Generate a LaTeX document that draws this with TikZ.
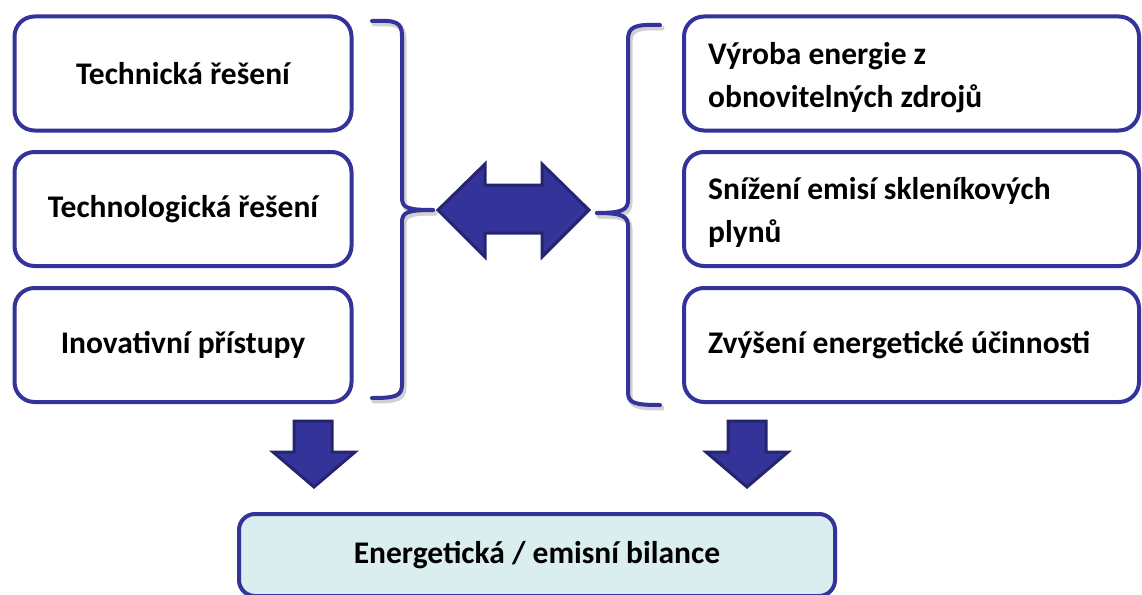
\documentclass[tikz,border=0pt]{standalone}
\usepackage{fontspec}
\setmainfont{Carlito}
\definecolor{navy}{HTML}{333399}
\definecolor{navydark}{HTML}{25256F}
\definecolor{paleteal}{HTML}{DAEDEF}
\begin{document}
\begin{tikzpicture}[x=1pt,y=-1pt,
  textfont/.style={font=\fontsize{31.5}{43}\selectfont\bfseries},
  box/.style={draw=navy, line width=4pt, rounded corners=20pt, fill=white,
    inner sep=0pt, textfont},
  leftbox/.style={box, minimum width=337pt, minimum height=114pt, align=center},
  rightbox/.style={box, minimum width=455pt, minimum height=114pt},
  righttext/.style={textfont, inner sep=0pt, align=left, anchor=west},
  resultbox/.style={box, fill=paleteal, rounded corners=16pt, minimum width=596pt, minimum height=82pt},
  brace/.style={draw=navy, line width=4pt, line cap=round, line join=round},
  braceshadow/.style={draw=black!18, line width=5pt, line cap=round, line join=round},
  blockarrow/.style={fill=navy, draw=navydark, line width=3pt, line join=miter}
]
\useasboundingbox (0,0) rectangle (1142,594);
\clip (0,0) rectangle (1142,594);

% left column
\node[leftbox] (tech)  at (183,73.5) {Technická řešení};
\node[leftbox] (techn) at (183,209)  {Technologická řešení};
\node[leftbox] (inov)  at (183,345)  {Inovativní přístupy};

% right column: frames, then left-aligned texts
\node[rightbox] (obnov) at (911.5,73.5) {};
\node[rightbox] (emis)  at (911.5,209)  {};
\node[rightbox] (ucin)  at (911.5,345)  {};
\node[righttext] (obnovtext) at ([xshift=26pt,yshift=-4pt]obnov.west) {Výroba energie z\\obnovitelných zdrojů};
\node[righttext] (emistext)  at ([xshift=26pt,yshift=-3pt]emis.west)  {Snížení emisí skleníkových\\plynů};
\node[righttext] (ucintext)  at ([xshift=26pt]ucin.west)  {Zvýšení energetické účinnosti};

% result
\node[resultbox] (bil) at (537,555) {Energetická / emisní bilance};

% braces (soft shadow first)
\foreach \s/\st in {1/braceshadow,0/brace}{
  \path[\st, shift={(2*\s,3*\s)}]
    (372,21) .. controls (396,20) and (402,22) .. (402,36)
    -- (402,198) .. controls (402,208) and (408,210) .. (433,210);
  \path[\st, shift={(2*\s,3*\s)}]
    (433,210) .. controls (408,210) and (402,212) .. (402,222)
    -- (402,384) .. controls (402,396) and (396,398) .. (372,398);
  \path[\st, shift={(2*\s,3*\s)}]
    (660,25) .. controls (634,24) and (628,27) .. (628,40)
    -- (628,200) .. controls (628,210) and (622,213) .. (597,213);
  \path[\st, shift={(2*\s,3*\s)}]
    (597,213) .. controls (622,213) and (628,216) .. (628,226)
    -- (628,392) .. controls (628,403) and (634,405) .. (660,405);
}

% double block arrow between the braces
\path[blockarrow]
  (438,210) -- (485,164) -- (485,185) -- (542,185) -- (542,164) -- (589,210)
  -- (542,257) -- (542,233) -- (485,233) -- (485,257) -- cycle;

% block arrows down to the result
\path[blockarrow]
  (294,421) -- (332,421) -- (332,452) -- (355,452) -- (314,487)
  -- (273,452) -- (294,452) -- cycle;
\path[blockarrow]
  (728,421) -- (766,421) -- (766,452) -- (788,452) -- (747,487)
  -- (706,452) -- (728,452) -- cycle;
\end{tikzpicture}
\end{document}
